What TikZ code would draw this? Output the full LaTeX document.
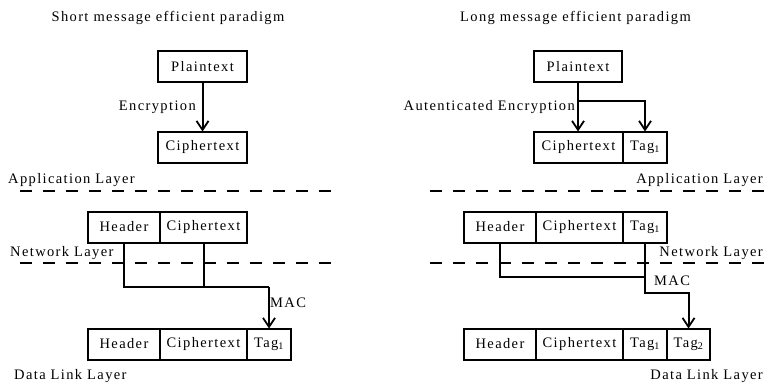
\documentclass[tikz,border=0pt]{standalone}
\usepackage{fontspec}
\setmainfont{Liberation Serif}[LetterSpace=9.5]
\usetikzlibrary{positioning,arrows.meta}

\begin{document}
\begin{tikzpicture}[x=1pt,y=-1pt,
    font=\fontsize{14.5}{16}\selectfont,
    >={Straight Barb[length=9pt,width=12pt,line width=1.8pt]},
    field/.style={draw,line width=2pt,minimum height=31pt,inner sep=0pt,outer sep=0pt},
    txt/.style={inner sep=0pt},
    link/.style={line width=2pt},
    layer/.style={line width=1.8pt,dash pattern=on 12pt off 11pt}]

    \useasboundingbox (0,0) rectangle (765,383);

    % 左边: short message
    \node[txt] (titleA) at (168,18) {Short message efficient paradigm};

    \node[field,minimum width=89pt] (plainA) at (202.5,66.5) {Plaintext};
    \node[field,minimum width=89pt] (cipA) at (202.5,147) {Ciphertext};
    \draw[link,->] (plainA) -- (cipA);
    \node[txt,anchor=east] (encA) at (196,107) {Encryption};

    \node[txt,anchor=west] (appA) at (8,180) {Application Layer};
    \draw[layer] (20,191) -- (333,191);

    % network packet
    \node[field,minimum width=72pt] (hdrNetA) at (124,227) {Header};
    \node[field,minimum width=87pt,right=0pt of hdrNetA] (cipNetA) {Ciphertext};
    \node[txt,anchor=west] (netA) at (10,253) {Network Layer};
    \draw[layer] (20,263) -- (333,263);

    % data link packet
    \node[field,minimum width=72pt] (hdrDlA) at (124,344) {Header};
    \node[field,minimum width=87pt,right=0pt of hdrDlA] (cipDlA) {Ciphertext};
    \node[field,minimum width=44pt,right=0pt of cipDlA] (tagDlA) {Tag\textsubscript{1}};
    \node[txt,anchor=west] (dlA) at (14,376) {Data Link Layer};

    % MAC over header + ciphertext
    \coordinate (macA) at (tagDlA.north |- 0,287);
    \draw[link] (hdrNetA.south) |- (macA);
    \draw[link] (cipNetA.south) -- (cipNetA.south |- macA);
    \draw[link,->] (macA) -- (tagDlA.north);
    \node[txt,anchor=west] (macLblA) at (270,303) {MAC};

    % 右边: long message
    \node[txt] (titleB) at (575.5,18) {Long message efficient paradigm};

    \node[field,minimum width=88pt] (plainB) at (578,66.5) {Plaintext};
    \node[field,minimum width=89pt] (cipB) at (578.5,147) {Ciphertext};
    \node[field,minimum width=44pt,right=0pt of cipB] (tagB) {Tag\textsubscript{1}};
    \draw[link,->] (plainB.south) -- (plainB.south |- cipB.north);
    \draw[link,->] (plainB.south) ++(0,19) -| (tagB.north);
    \node[txt,anchor=east] (encB) at (575,107) {Autenticated Encryption};

    \node[txt,anchor=east] (appB) at (763,180) {Application Layer};
    \draw[layer] (430,191) -- (765,191);

    % network packet
    \node[field,minimum width=72pt] (hdrNetB) at (500,227) {Header};
    \node[field,minimum width=87pt,right=0pt of hdrNetB] (cipNetB) {Ciphertext};
    \node[field,minimum width=44pt,right=0pt of cipNetB] (tagNetB) {Tag\textsubscript{1}};
    \node[txt,anchor=east] (netB) at (763,253) {Network Layer};
    \draw[layer] (430,263) -- (765,263);

    % data link packet
    \node[field,minimum width=72pt] (hdrDlB) at (500,344) {Header};
    \node[field,minimum width=87pt,right=0pt of hdrDlB] (cipDlB) {Ciphertext};
    \node[field,minimum width=44pt,right=0pt of cipDlB] (tagDlB) {Tag\textsubscript{1}};
    \node[field,minimum width=43pt,right=0pt of tagDlB] (tagTwoB) {Tag\textsubscript{2}};
    \node[txt,anchor=east] (dlB) at (763,376) {Data Link Layer};

    % MAC over header + tag1
    \draw[link] (hdrNetB.south) |- (tagNetB.south |- 0,277);
    \draw[link,->] (tagNetB.south) -- ++(0,50) -| (tagTwoB.north);
    \node[txt,anchor=west] (macLblB) at (654,281) {MAC};

\end{tikzpicture}
\end{document}
